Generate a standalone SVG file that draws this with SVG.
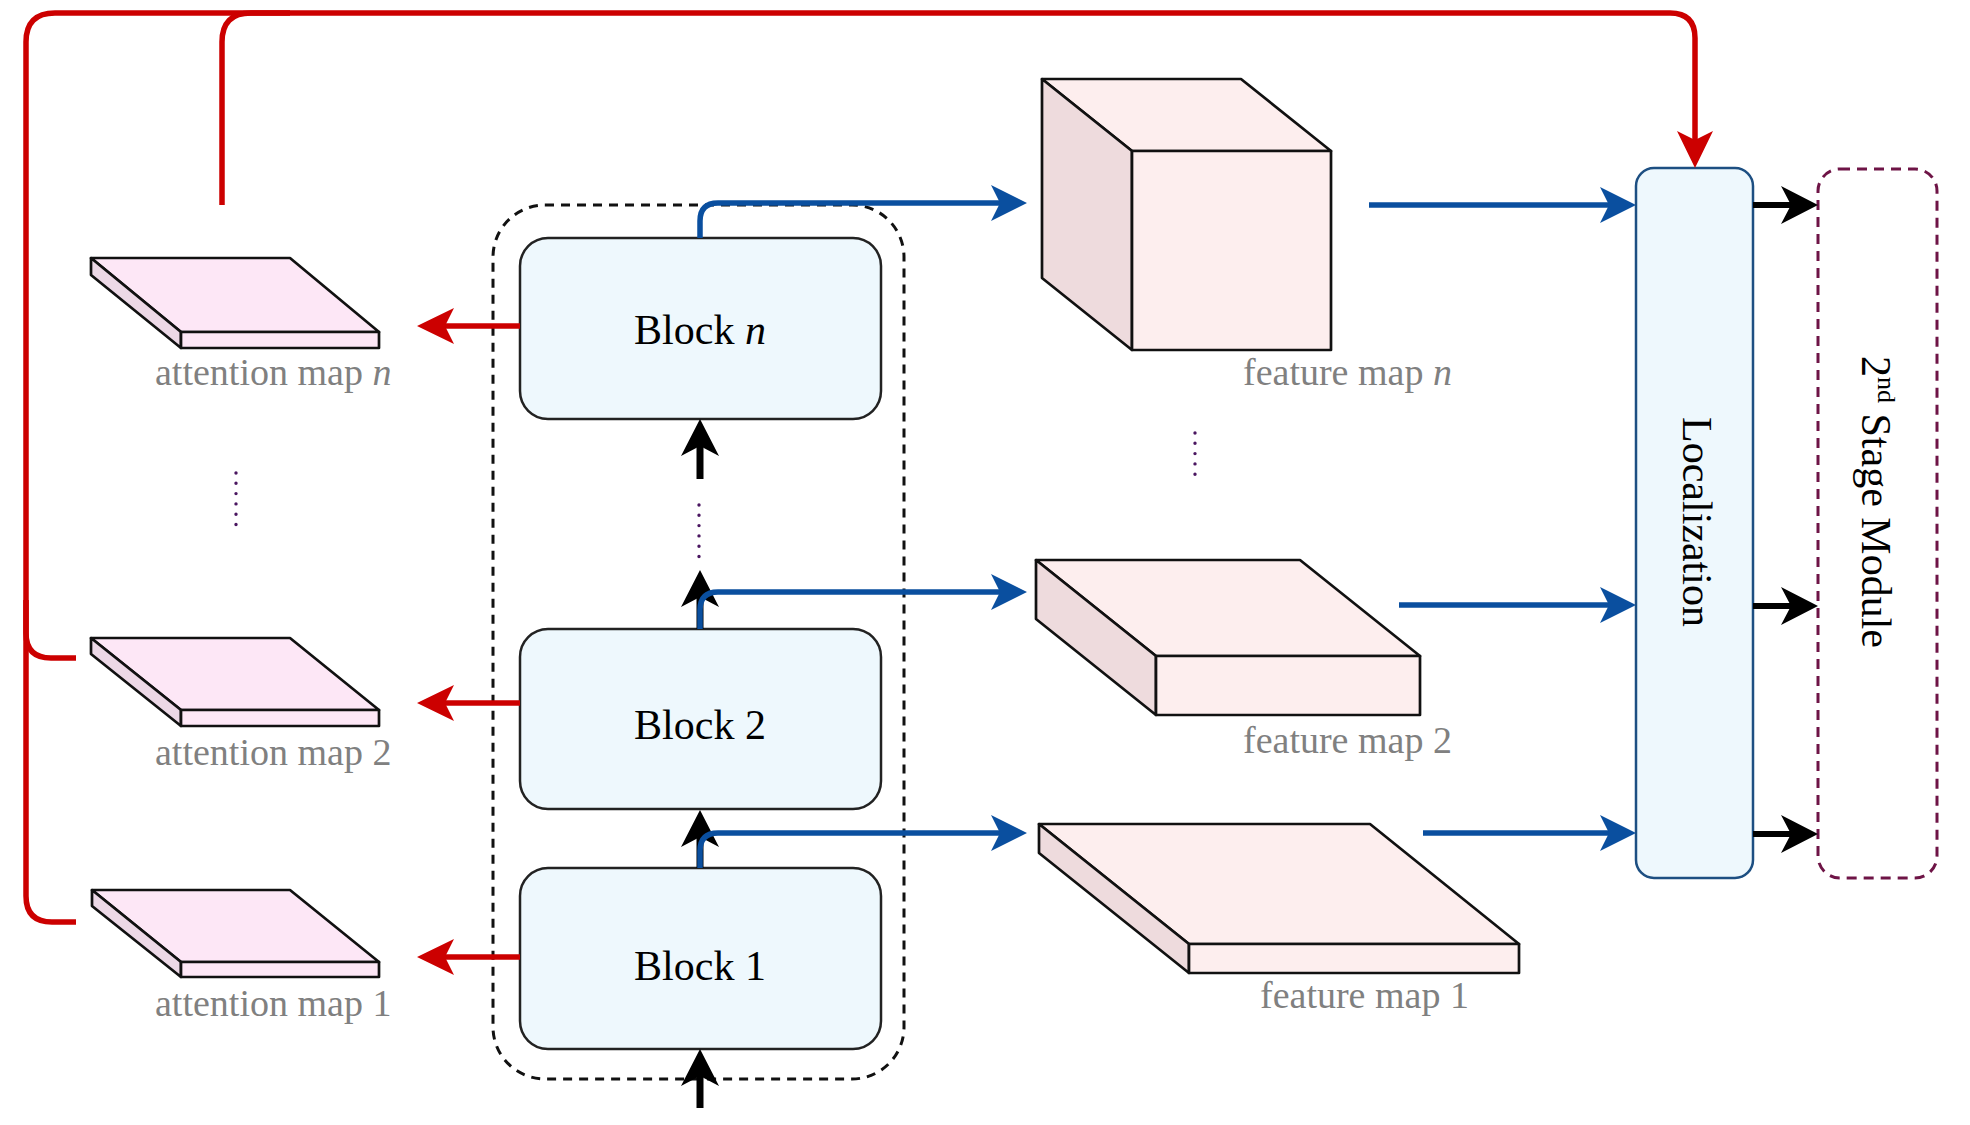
<svg xmlns="http://www.w3.org/2000/svg" width="1970" height="1125" viewBox="0 0 1970 1125">
<style>
.blk{fill:#eef8fd;stroke:#222;stroke-width:2.5}
.btxt{font-family:"Liberation Serif","Times New Roman",serif;font-size:42px;fill:#000;text-anchor:middle}
.lbl{font-family:"Liberation Serif","Times New Roman",serif;font-size:38px;fill:#808080}
.edge{stroke:#111;stroke-width:2.7;stroke-linejoin:round}
.atop{fill:#fde7f6}
.aside{fill:#ecd8e6}
.ftop{fill:#fdeeee}
.fside{fill:#eedbdd}
.red{fill:none;stroke:#cc0000;stroke-width:5.5}
.blue{fill:none;stroke:#0a4f9f;stroke-width:5.5}
.blk-arrow{fill:none;stroke:#000;stroke-width:7}
.out-arrow{fill:none;stroke:#000;stroke-width:6}
.dots{fill:none;stroke:#4a1660;stroke-width:3.4;stroke-linecap:round;stroke-dasharray:0 10.3}
</style>
<defs>
<marker id="mr" viewBox="-40 -20 44 40" markerWidth="44" markerHeight="40" refX="-10" refY="0" orient="auto" markerUnits="userSpaceOnUse"><path d="M0,0 L-37,-18 L-28,0 L-37,18 Z" fill="#cc0000"/></marker>
<marker id="mb" viewBox="-40 -20 44 40" markerWidth="44" markerHeight="40" refX="-10" refY="0" orient="auto" markerUnits="userSpaceOnUse"><path d="M0,0 L-36,-18 L-27,0 L-36,18 Z" fill="#0a4f9f"/></marker>
<marker id="mk" viewBox="-40 -22 44 44" markerWidth="44" markerHeight="44" refX="-10" refY="0" orient="auto" markerUnits="userSpaceOnUse"><path d="M0,0 L-37,-19 L-27,0 L-37,19 Z" fill="#000"/></marker>
</defs>
<rect width="1970" height="1125" fill="#fff"/>

<g id="container">
<rect x="493" y="205" width="411" height="874" rx="52" fill="none" stroke="#111" stroke-width="3" stroke-dasharray="9 7"/>
</g>

<g id="att-map-n">
<polygon class="atop edge" points="91,258 290,258 379,332 181,332"/>
<polygon class="aside edge" points="91,258 181,332 181,348 91,275"/>
<rect class="atop edge" x="181" y="332" width="198" height="16"/>
<text class="lbl" x="155" y="385">attention map <tspan font-style="italic">n</tspan></text>
</g>
<g id="att-map-2">
<polygon class="atop edge" points="91,638 290,638 379,710 181,710"/>
<polygon class="aside edge" points="91,638 181,710 181,726 91,654"/>
<rect class="atop edge" x="181" y="710" width="198" height="16"/>
<text class="lbl" x="155" y="765">attention map 2</text>
</g>
<g id="att-map-1">
<polygon class="atop edge" points="92,890 290,890 379,962 181,962"/>
<polygon class="aside edge" points="92,890 181,962 181,977 92,906"/>
<rect class="atop edge" x="181" y="962" width="198" height="15"/>
<text class="lbl" x="155" y="1016">attention map 1</text>
</g>
<g id="att-dots"><line class="dots" x1="236" y1="473" x2="236" y2="527"/></g>

<g id="block-n">
<rect class="blk" x="520" y="238" width="361" height="181" rx="28"/>
<text class="btxt" x="700" y="344">Block <tspan font-style="italic">n</tspan></text>
</g>
<g id="block-2">
<rect class="blk" x="520" y="629" width="361" height="180" rx="28"/>
<text class="btxt" x="700" y="739">Block 2</text>
</g>
<g id="block-1">
<rect class="blk" x="520" y="868" width="361" height="181" rx="28"/>
<text class="btxt" x="700" y="980">Block 1</text>
</g>
<g id="block-dots"><line class="dots" x1="699" y1="505" x2="699" y2="557"/></g>

<g id="feat-map-n">
<polygon class="ftop edge" points="1042,79 1241,79 1331,151 1132,151"/>
<polygon class="fside edge" points="1042,79 1132,151 1132,350 1042,278"/>
<rect class="ftop edge" x="1132" y="151" width="199" height="199"/>
<text class="lbl" x="1243" y="385">feature map <tspan font-style="italic">n</tspan></text>
</g>
<g id="feat-dots"><line class="dots" x1="1195" y1="433" x2="1195" y2="484"/></g>
<g id="feat-map-2">
<polygon class="ftop edge" points="1036,560 1300,560 1420,656 1156,656"/>
<polygon class="fside edge" points="1036,560 1156,656 1156,715 1036,619"/>
<rect class="ftop edge" x="1156" y="656" width="264" height="59"/>
<text class="lbl" x="1243" y="753">feature map 2</text>
</g>
<g id="feat-map-1">
<polygon class="ftop edge" points="1039,824 1370,824 1519,944 1189,944"/>
<polygon class="fside edge" points="1039,824 1189,944 1189,973 1039,853"/>
<rect class="ftop edge" x="1189" y="944" width="330" height="29"/>
<text class="lbl" x="1260" y="1008">feature map 1</text>
</g>

<g id="localization">
<rect x="1636" y="168" width="117" height="710" rx="18" fill="#eef8fd" stroke="#1d4f82" stroke-width="2.5"/>
<text class="btxt" transform="translate(1683,522) rotate(90)">Localization</text>
</g>
<g id="second-stage">
<rect x="1818" y="169" width="119" height="709" rx="22" fill="none" stroke="#6e1446" stroke-width="3" stroke-dasharray="10 7"/>
<text class="btxt" transform="translate(1862,502) rotate(90)">2<tspan font-size="26" dy="-16">nd</tspan><tspan dy="16"> Stage Module</tspan></text>
</g>

<g id="connectors">
<path class="red" d="M520,326 L427,326" marker-end="url(#mr)"/>
<path class="red" d="M520,703 L427,703" marker-end="url(#mr)"/>
<path class="red" d="M520,957 L427,957" marker-end="url(#mr)"/>
<path class="red" d="M76,922 L52,922 Q26,922 26,896 L26,42 Q26,13 55,13 L1670,13 Q1695,13 1695,38 L1695,158" marker-end="url(#mr)"/>
<path class="red" d="M76,658 L51,658 Q26,658 26,633 L26,600"/>
<path class="red" d="M222,205 L222,42 Q222,13 251,13 L290,13"/>

<path class="blk-arrow" d="M700,1108 L700,1059" marker-end="url(#mk)"/>
<path class="blk-arrow" d="M700,868 L700,820" marker-end="url(#mk)"/>
<path class="blk-arrow" d="M700,629 L700,580" marker-end="url(#mk)"/>
<path class="blk-arrow" d="M700,479 L700,429" marker-end="url(#mk)"/>

<path class="blue" d="M700,238 L700,221 Q700,203 718,203 L1017,203" marker-end="url(#mb)"/>
<path class="blue" d="M700,629 L700,610 Q700,592 718,592 L1017,592" marker-end="url(#mb)"/>
<path class="blue" d="M700,868 L700,851 Q700,833 718,833 L1017,833" marker-end="url(#mb)"/>
<path class="blue" d="M1369,205 L1626,205" marker-end="url(#mb)"/>
<path class="blue" d="M1399,605 L1626,605" marker-end="url(#mb)"/>
<path class="blue" d="M1423,833 L1626,833" marker-end="url(#mb)"/>

<path class="out-arrow" d="M1753,205 L1808,205" marker-end="url(#mk)"/>
<path class="out-arrow" d="M1753,606 L1808,606" marker-end="url(#mk)"/>
<path class="out-arrow" d="M1753,834 L1808,834" marker-end="url(#mk)"/>
</g>
</svg>
